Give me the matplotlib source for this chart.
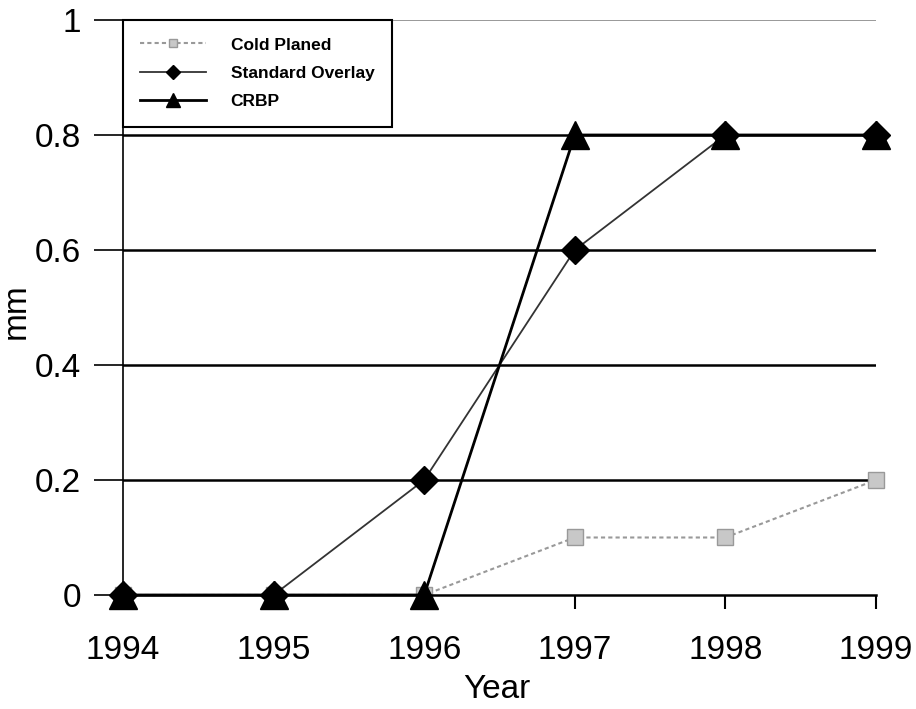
import matplotlib
matplotlib.use("Agg")
import matplotlib.pyplot as plt

plt.rcParams['font.family'] = ['Liberation Sans', 'DejaVu Sans']

years = [1994, 1995, 1996, 1997, 1998, 1999]
cold_planed = [0, 0, 0, 0.1, 0.1, 0.2]
standard_overlay = [0, 0, 0.2, 0.6, 0.8, 0.8]
crbp = [0, 0, 0, 0.8, 0.8, 0.8]
y_ticks = [0, 0.2, 0.4, 0.6, 0.8, 1]
y_labels = ["0", "0.2", "0.4", "0.6", "0.8", "1"]

fig = plt.figure(figsize=(9.16, 7.09), dpi=100)
ax = fig.add_axes([0.1343, 0.1608, 0.822, 0.811])

# grid lines
for y in y_ticks[1:-1]:
    ax.axhline(y, color="black", lw=1.8, zorder=1)
ax.axhline(1, color="#888888", lw=1.2, zorder=1)

ax.plot(years, cold_planed, color="#999999", ls=(0, (2, 1.5)), lw=1.5,
        marker="s", ms=12, mfc="#c8c8c8", mec="#999999", label="Cold Planed",
        zorder=2, clip_on=False)
ax.plot(years, standard_overlay, color="#333333", lw=1.3,
        marker="D", ms=14, mfc="black", mec="black", label="Standard Overlay",
        zorder=3, clip_on=False)
ax.plot(years, crbp, color="black", lw=2,
        marker="^", ms=20, mfc="black", mec="black", label="CRBP",
        zorder=4, clip_on=False)

ax.set_xlim(1994, 1999)
ax.set_ylim(0, 1)
ax.set_xticks(years)
ax.set_yticks(y_ticks)
ax.set_yticklabels(y_labels)
ax.tick_params(axis="y", length=21, width=1.2, labelsize=24, pad=9)
ax.tick_params(axis="x", length=10, width=1.5, labelsize=24, pad=19)
ax.spines["top"].set_visible(False)
ax.spines["right"].set_visible(False)
ax.spines["left"].set_linewidth(1.2)
ax.spines["bottom"].set_linewidth(1.8)
ax.set_xlabel("Year", fontsize=24)
ax.xaxis.set_label_coords(0.497, -0.138)
ax.set_ylabel("mm", fontsize=24)
ax.yaxis.set_label_coords(-0.121, 0.494)

leg = ax.legend(loc="upper left", bbox_to_anchor=(0, 1), borderaxespad=0,
                fancybox=False, edgecolor="black", framealpha=1,
                prop={"weight": "bold", "size": 12.5}, handlelength=3.8,
                markerscale=0.5, borderpad=1.0, labelspacing=0.76,
                handletextpad=1.4)
leg.get_frame().set_linewidth(1.5)

fig.savefig("out.png", dpi=100)
